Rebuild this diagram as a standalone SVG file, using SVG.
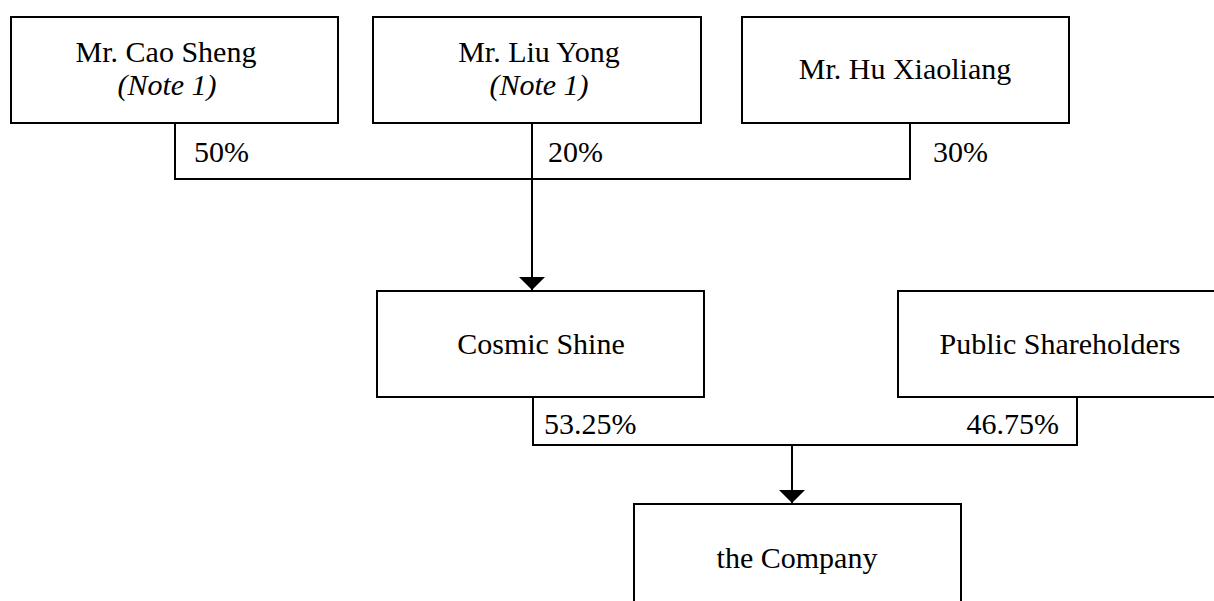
<svg xmlns="http://www.w3.org/2000/svg" width="1214" height="601" viewBox="0 0 1214 601">
<style>
.box{fill:#fff;stroke:#000;stroke-width:2}
.ln{fill:none;stroke:#000;stroke-width:2}
.t{font-family:"Liberation Serif","Times New Roman",serif;font-size:30px;fill:#000}
.c{text-anchor:middle}
.i{font-style:italic}
</style>
<defs>
<marker id="ah" markerUnits="userSpaceOnUse" markerWidth="14" markerHeight="27" refX="13" refY="13" viewBox="0 0 14 27" orient="auto">
<path d="M0,0 L13,13 L0,26 Z" fill="#000"/>
</marker>
</defs>
<rect width="1214" height="601" fill="#fff"/>
<g id="connectors">
<path class="ln" d="M175,123 V179 H910 V123"/>
<path class="ln" d="M532,123 V290" marker-end="url(#ah)"/>
<path class="ln" d="M533,397 V445 H1077 V397"/>
<path class="ln" d="M792,445 V503" marker-end="url(#ah)"/>
<text class="t" x="194" y="162">50%</text>
<text class="t" x="548" y="162">20%</text>
<text class="t" x="933" y="162">30%</text>
<text class="t" x="544" y="434">53.25%</text>
<text class="t" x="1059" y="434" text-anchor="end">46.75%</text>
</g>
<g id="cao">
<rect class="box" x="11" y="17" width="327" height="106"/>
<text class="t c" x="166" y="62">Mr. Cao Sheng</text>
<text class="t c i" x="167" y="95">(Note 1)</text>
</g>
<g id="liu">
<rect class="box" x="373" y="17" width="328" height="106"/>
<text class="t c" x="539" y="62">Mr. Liu Yong</text>
<text class="t c i" x="539" y="95">(Note 1)</text>
</g>
<g id="hu">
<rect class="box" x="742" y="17" width="327" height="106"/>
<text class="t c" x="905" y="79">Mr. Hu Xiaoliang</text>
</g>
<g id="cosmic">
<rect class="box" x="377" y="291" width="327" height="106"/>
<text class="t c" x="541" y="354">Cosmic Shine</text>
</g>
<g id="public">
<rect class="box" x="898" y="291" width="330" height="106"/>
<text class="t c" x="1060" y="354">Public Shareholders</text>
</g>
<g id="company">
<rect class="box" x="634" y="504" width="327" height="110"/>
<text class="t c" x="797" y="568">the Company</text>
</g>
</svg>
